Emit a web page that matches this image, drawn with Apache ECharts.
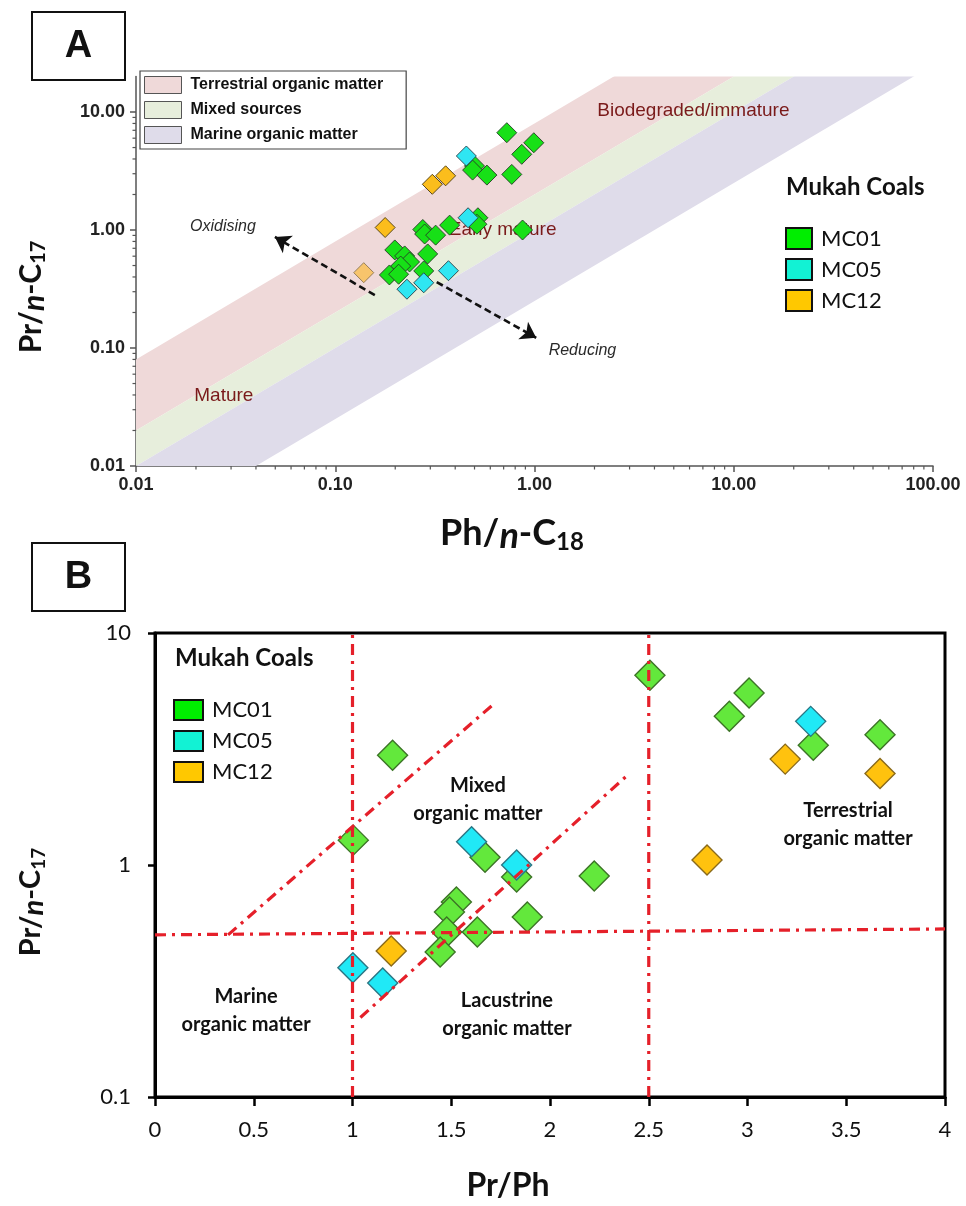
<!DOCTYPE html>
<html>
<head>
<meta charset="utf-8">
<script src="https://cdn.jsdelivr.net/npm/echarts@6/dist/echarts.min.js"></script>
<style>
html,body{margin:0;padding:0;background:#fff}
#chart{width:966px;height:1206px}
</style>
</head>
<body>
<div id="chart"></div>
<script>
// ---------- Panel A: Pr/n-C17 vs Ph/n-C18 (log-log) ----------
const aMC01 = [
  [0.726, 6.68], [0.992, 5.49], [0.863, 4.38], [0.500, 3.49], [0.489, 3.22], [0.577, 2.92], [0.769, 2.96],
  [0.275, 1.01], [0.281, 0.925], [0.319, 0.905], [0.375, 1.10], [0.520, 1.27], [0.514, 1.12], [0.871, 1.00],
  [0.199, 0.678], [0.223, 0.603], [0.236, 0.536], [0.213, 0.495], [0.291, 0.627], [0.187, 0.416], [0.208, 0.422], [0.278, 0.450]
];
const aMC05 = [[0.455, 4.24], [0.464, 1.27], [0.370, 0.452], [0.278, 0.357], [0.229, 0.315]];
const aMC12 = [[0.307, 2.44], [0.358, 2.88], [0.178, 1.05], [0.139, 0.435]];

// source bands: Pr/n-C17 = k * Ph/n-C18, between an upper and a lower k
const bandNames = ['Terrestrial organic matter', 'Mixed sources', 'Marine organic matter'];
const bandUpper = [8, 2, 1];
const bandLower = [2, 1, 0.25];
const bandColors = ['#efd9d9', '#e7eedc', '#dfdcea'];

const aXTicks = [0.01, 0.1, 1, 10, 100];
const aYTicks = [0.01, 0.1, 1, 10];

// dashed trend arrows [from, to]
const aArrows = [
  [[0.158, 0.281], [0.0498, 0.873]],
  [[0.323, 0.362], [1.02, 0.122]]
];
// text annotations [x, y, text]
const aMaturityNotes = [
  [6.27, 10.2, 'Biodegraded/immature'],
  [0.692, 1.0, 'Early mature'],
  [0.0276, 0.039, 'Mature']
];
const aRedoxNotes = [
  [0.0273, 1.06, 'Oxidising'],
  [1.74, 0.096, 'Reducing']
];

// ---------- Panel B: Pr/n-C17 vs Pr/Ph ----------
const bMC01 = [
  [2.506, 6.57], [3.008, 5.51], [2.908, 4.38], [3.333, 3.28], [3.671, 3.64], [1.203, 2.97], [1.004, 1.28],
  [1.671, 1.08], [1.831, 0.888], [2.224, 0.897], [1.526, 0.693], [1.491, 0.627], [1.885, 0.597],
  [1.477, 0.514], [1.632, 0.514], [1.444, 0.422]
];
const bMC05 = [[1.603, 1.26], [1.831, 1.00], [3.320, 4.16], [1.002, 0.361], [1.153, 0.310]];
const bMC12 = [[3.191, 2.86], [3.671, 2.48], [2.795, 1.05], [1.196, 0.426]];

const bYTicks = [0.1, 1, 10];

// field boundaries
const bBoundaries = [
  [[1, 0.1], [1, 10]],
  [[2.5, 0.1], [2.5, 10]],
  [[0, 0.5], [4, 0.53]],
  [[0.37, 0.5], [1.71, 4.9]],
  [[1.04, 0.22], [2.39, 2.43]]
];
const bFieldNotes = [
  [1.635, 1.92, 'Mixed\norganic matter'],
  [3.509, 1.49, 'Terrestrial\norganic matter'],
  [0.461, 0.237, 'Marine\norganic matter'],
  [1.782, 0.226, 'Lacustrine\norganic matter']
];

const groupNames = ['MC01', 'MC05', 'MC12'];
const legendColors = ['#00ee00', '#12f2d4', '#ffc800'];

// ---------- build ----------
const chart = echarts.init(document.getElementById('chart'), null, {renderer: 'canvas'});

const LATO = 'Lato';
const ARIAL = 'Liberation Sans';

function bandSeries(i) {
  return {
    type: 'custom', name: bandNames[i], xAxisIndex: 0, yAxisIndex: 0,
    clip: true, silent: true, z: 1,
    itemStyle: {color: bandColors[i]},
    data: [[bandUpper[i], bandLower[i]]],
    renderItem: function (params, api) {
      const ku = api.value(0), kl = api.value(1);
      const lo = 1e-4, hi = 1e4;
      const pts = [api.coord([lo, ku * lo]), api.coord([hi, ku * hi]), api.coord([hi, kl * hi]), api.coord([lo, kl * lo])];
      return {type: 'polygon', shape: {points: pts}, style: {fill: bandColors[i]}};
    }
  };
}

// minor ticks of the log axes in panel A
const minorTicks = [];
for (let e = -2; e < 2; e++) {
  for (let m = 2; m <= 9; m++) {
    const v = m * Math.pow(10, e);
    minorTicks.push([v, 0.01, 0]);
    if (e < 1) minorTicks.push([0.01, v, 1]);
  }
}

function markerSeries(name, data, xi, color, border, size, z) {
  return {
    type: 'scatter', name: name, xAxisIndex: xi, yAxisIndex: xi,
    symbol: 'diamond', symbolSize: size, z: z,
    itemStyle: {color: color, borderColor: border, borderWidth: xi === 0 ? 0.9 : 1.4, opacity: 1},
    emphasis: {disabled: true},
    data: data
  };
}

// text placed at data coordinates
function noteSeries(axisIdx, notes, style, z) {
  return {
    type: 'custom', xAxisIndex: axisIdx, yAxisIndex: axisIdx, silent: true, z: z, clip: false,
    data: notes.map(n => [n[0], n[1]]),
    renderItem: function (params, api) {
      const p = api.coord([api.value(0), api.value(1)]);
      return {
        type: 'text', x: p[0], y: p[1],
        style: Object.assign({text: notes[params.dataIndex][2], align: 'center', verticalAlign: 'middle'}, style)
      };
    }
  };
}

const arrowSeries = {
  type: 'line', xAxisIndex: 0, yAxisIndex: 0, data: [], silent: true, z: 6,
  markLine: {
    silent: true, symbol: ['none', 'arrow'], symbolSize: 15,
    lineStyle: {type: [7, 4], color: '#111', width: 2.6},
    label: {show: false},
    data: aArrows.map(a => [{coord: a[0]}, {coord: a[1]}])
  }
};

const boundarySeries = bBoundaries.map(seg => ({
  type: 'line', xAxisIndex: 1, yAxisIndex: 1, data: seg, showSymbol: false, symbol: 'none',
  silent: true, z: 6, animation: false,
  lineStyle: {color: '#e5202a', width: 3.2, type: [11, 6, 3, 6]}
}));

const titleRich = function (size, sub) {
  return {
    i: {fontFamily: LATO, fontWeight: 'bold', fontStyle: 'italic', fontSize: size, fill: '#111', verticalAlign: 'bottom', lineHeight: size * 1.2},
    s: {fontFamily: LATO, fontWeight: 'bold', fontSize: sub, fill: '#111', verticalAlign: 'bottom', lineHeight: sub * 0.55}
  };
};
function axisTitle(x, y, text, size, sub, rot) {
  return {
    type: 'text', x: x, y: y, rotation: rot, z: 100,
    style: {
      text: text, fontFamily: LATO, fontWeight: 'bold', fontSize: size, fill: '#111',
      align: 'center', verticalAlign: 'middle', rich: titleRich(size, sub)
    }
  };
}
function panelBox(x, y, letter) {
  return [
    {type: 'rect', shape: {x: x, y: y, width: 93, height: 68}, style: {fill: '#fff', stroke: '#111', lineWidth: 2}, z: 100},
    {type: 'text', x: x + 46.5, y: y + 35, z: 101,
     style: {text: letter, fontFamily: ARIAL, fontWeight: 'bold', fontSize: 38, fill: '#111', align: 'center', verticalAlign: 'middle'}}
  ];
}

const mcLegend = (left, top, w, h, gap) => ({
  left: left, top: top, orient: 'vertical', icon: 'rect', selectedMode: false,
  itemWidth: w, itemHeight: h, itemGap: gap,
  itemStyle: {borderColor: '#111', borderWidth: 2},
  textStyle: {fontFamily: LATO, fontSize: 22, color: '#111', padding: [0, 0, 0, 4]},
  data: groupNames.map((n, i) => ({name: n, itemStyle: {color: legendColors[i]}}))
});

const option = {
  animation: false,
  backgroundColor: '#fff',
  grid: [
    {left: 136, top: 76.5, width: 797, height: 389.5, show: false},
    {left: 155, top: 633, width: 790, height: 464, show: true, borderColor: '#000', borderWidth: 3, backgroundColor: 'transparent', z: 3}
  ],
  xAxis: [
    {
      type: 'log', logBase: 10, gridIndex: 0, min: 0.01, max: 100,
      axisLine: {show: true, lineStyle: {color: '#555', width: 1.5}},
      axisTick: {show: true, length: 6, customValues: aXTicks, lineStyle: {color: '#555', width: 1.5}},
      axisLabel: {customValues: aXTicks, formatter: v => v.toFixed(2), fontFamily: ARIAL, fontWeight: 'bold', fontSize: 18, color: '#222', margin: 10},
      splitLine: {show: false}, minorTick: {show: false}
    },
    {
      type: 'value', gridIndex: 1, min: 0, max: 4, interval: 0.5,
      axisLine: {show: true, onZero: false, lineStyle: {color: '#000', width: 3}},
      axisTick: {show: true, length: 9, lineStyle: {color: '#000', width: 2.5}},
      axisLabel: {fontFamily: LATO, fontSize: 22, color: '#111', margin: 22},
      splitLine: {show: false}
    }
  ],
  yAxis: [
    {
      type: 'log', logBase: 10, gridIndex: 0, min: 0.01, max: 20,
      axisLine: {show: true, lineStyle: {color: '#555', width: 1.5}},
      axisTick: {show: true, length: 6, customValues: aYTicks, lineStyle: {color: '#555', width: 1.5}},
      axisLabel: {customValues: aYTicks, formatter: v => v.toFixed(2), fontFamily: ARIAL, fontWeight: 'bold', fontSize: 18, color: '#222', margin: 11},
      splitLine: {show: false}
    },
    {
      type: 'log', logBase: 10, gridIndex: 1, min: 0.1, max: 10,
      axisLine: {show: true, lineStyle: {color: '#000', width: 3}},
      axisTick: {show: true, length: 7, customValues: bYTicks, lineStyle: {color: '#000', width: 2.5}},
      axisLabel: {customValues: bYTicks, formatter: v => (v < 0.5 ? '0.1' : String(Math.round(v))), fontFamily: LATO, fontSize: 22, color: '#111', margin: 24},
      splitLine: {show: false}
    }
  ],
  legend: [
    {
      left: 140, top: 71, orient: 'vertical', icon: 'rect', selectedMode: false,
      itemWidth: 37, itemHeight: 17, itemGap: 7, padding: [5, 23, 5, 4],
      borderColor: '#444', borderWidth: 1.2, backgroundColor: '#fff',
      itemStyle: {borderColor: '#555', borderWidth: 1},
      textStyle: {fontFamily: ARIAL, fontWeight: 'bold', fontSize: 16, color: '#111', padding: [0, 0, 0, 4]},
      data: bandNames
    },
    mcLegend(780, 222, 26, 21, 8),
    mcLegend(168, 694, 29, 20, 9)
  ],
  graphic: [
    ...panelBox(32, 12, 'A'),
    ...panelBox(32, 543, 'B'),
    {type: 'text', x: 786, y: 187, z: 100, style: {text: 'Mukah Coals', fontFamily: LATO, fontWeight: 'bold', fontSize: 24, fill: '#111', align: 'left', verticalAlign: 'middle'}},
    {type: 'text', x: 175, y: 658, z: 100, style: {text: 'Mukah Coals', fontFamily: LATO, fontWeight: 'bold', fontSize: 24, fill: '#111', align: 'left', verticalAlign: 'middle'}},
    axisTitle(31, 297, 'Pr/{i|n}-C{s|17}', 30, 20, Math.PI / 2),
    axisTitle(512, 533, 'Ph/{i|n}-C{s|18}', 36, 24, 0),
    axisTitle(31, 902, 'Pr/{i|n}-C{s|17}', 29, 19, Math.PI / 2),
    axisTitle(508, 1186, 'Pr/Ph', 32, 20, 0)
  ],
  series: [
    bandSeries(0), bandSeries(1), bandSeries(2),
    {
      type: 'custom', xAxisIndex: 0, yAxisIndex: 0, silent: true, z: 3, clip: false,
      data: minorTicks,
      renderItem: function (params, api) {
        const p = api.coord([api.value(0), api.value(1)]);
        const horiz = api.value(2) === 0;
        const shape = horiz ? {x1: p[0], y1: p[1], x2: p[0], y2: p[1] + 3.5} : {x1: p[0], y1: p[1], x2: p[0] - 3.5, y2: p[1]};
        return {type: 'line', shape: shape, style: {stroke: '#555', lineWidth: 1.2}};
      }
    },
    noteSeries(0, aMaturityNotes, {fill: '#7a1a1a', fontFamily: ARIAL, fontSize: 19}, 2),
    noteSeries(0, aRedoxNotes, {fill: '#2a2a2a', fontFamily: ARIAL, fontSize: 16, fontStyle: 'italic'}, 2),
    arrowSeries,
    markerSeries('MC01', aMC01, 0, '#17e017', '#263b26', 20, 4),
    markerSeries('MC05', aMC05, 0, '#2fe6f2', '#264048', 20, 4),
    markerSeries('MC12', aMC12.map((d, i) => i === 3 ? {value: d, itemStyle: {color: '#f7c46c', borderColor: '#8a7450'}} : d), 0, '#fbbd1c', '#4a3a10', 20, 4),
    noteSeries(1, bFieldNotes, {fill: '#111', fontFamily: LATO, fontWeight: 'bold', fontSize: 20, lineHeight: 28}, 2),
    markerSeries('MC01', bMC01, 1, '#63e83c', '#3c7426', 30, 4),
    markerSeries('MC05', bMC05, 1, '#20e9f6', '#2a7684', 30, 4),
    markerSeries('MC12', bMC12, 1, '#ffc20e', '#8a6a1a', 30, 4),
    ...boundarySeries
  ]
};
chart.setOption(option);
</script>
</body>
</html>
